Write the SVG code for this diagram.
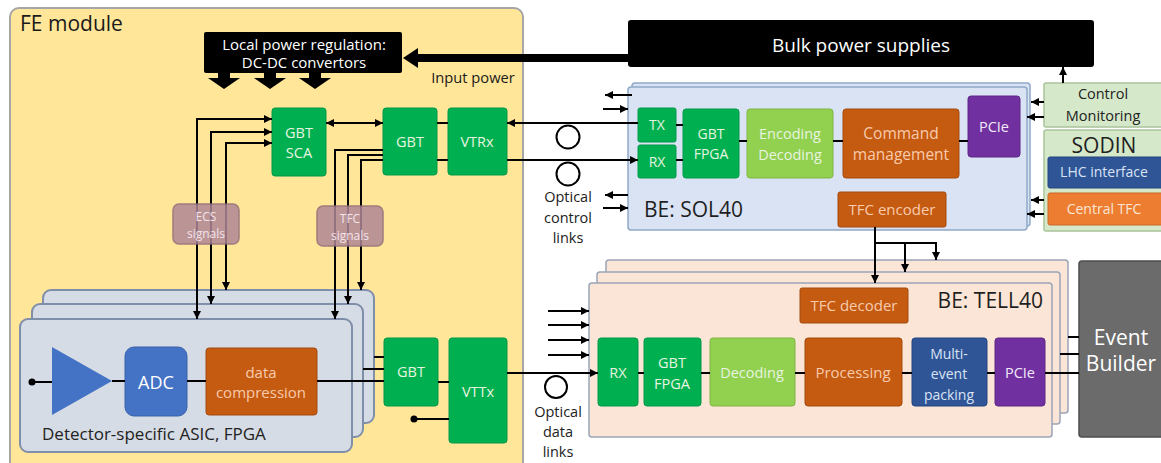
<svg xmlns="http://www.w3.org/2000/svg" width="1161" height="463" viewBox="0 0 1161 463">
<defs>
<style>
text{font-family:"Open Sans","Noto Sans","Liberation Sans",sans-serif;text-anchor:middle}
.ln{stroke:#000;stroke-width:2;fill:none}
.ar{stroke:#000;stroke-width:2;fill:none;marker-end:url(#ah)}
.ar2{stroke:#000;stroke-width:2;fill:none;marker-end:url(#ah);marker-start:url(#ah)}
.gr{fill:#00B050;stroke:#00994A;stroke-width:1}
.lg{fill:#92D050;stroke:#7FB543;stroke-width:1}
.or{fill:#C55A11;stroke:#A44A0E;stroke-width:1}
.pu{fill:#7030A0;stroke:#5E2887;stroke-width:1}
.bl{fill:#2F5597;stroke:#254580;stroke-width:1}
.tg{fill:#E8F4E0;font-size:14.5px}
.to{fill:#F8CBAD;font-size:15px}
.tw{fill:#F2EAF8;font-size:14.5px}
.tb{fill:#DAE3F3;font-size:14px}
.tk{fill:#222;font-size:14.5px}
.asic{fill:#D6DCE5;stroke:#7F8FA9;stroke-width:2}
.sol{fill:#DAE3F3;stroke:#8EA9C8;stroke-width:1.5}
.tell{fill:#FBE5D6;stroke:#9AA5B8;stroke-width:1.5}
.lgb{fill:#D5E8C9;stroke:#A9C49A;stroke-width:1.5}
.sig{fill:#B08796;stroke:#8E6B79;stroke-width:1.5;opacity:0.85}
.ts{fill:#F3E3EC;font-size:12px}
</style>
<marker id="ah" viewBox="0 0 10 10" refX="10" refY="5" markerWidth="8" markerHeight="8" markerUnits="userSpaceOnUse" orient="auto-start-reverse"><path d="M0,0 L10,5 L0,10 z" fill="#000"/></marker>
</defs>

<g id="fe-module">
<rect x="10" y="8" width="513" height="475" rx="9" fill="#FFE699" stroke="#A6A6A6" stroke-width="2"/>
<text x="20" y="31" style="text-anchor:start;font-size:21px;fill:#1a1a1a">FE module</text>
</g>

<g id="local-power">
<rect x="204" y="32" width="198" height="41" rx="2" fill="#000"/>
<text x="304" y="50" style="fill:#fff;font-size:15px">Local power regulation:</text>
<text x="304" y="68" style="fill:#fff;font-size:15px">DC-DC convertors</text>
<polygon points="218,72 230,72 230,78 240,78 224,89 208,78 218,78" fill="#000"/>
<polygon points="264,72 276,72 276,78 286,78 270,89 254,78 264,78" fill="#000"/>
<polygon points="309,72 321,72 321,78 331,78 315,89 299,78 309,78" fill="#000"/>
</g>

<g id="bulk-power">
<rect x="628" y="20" width="466" height="47" rx="3" fill="#000"/>
<text x="861" y="52" style="fill:#fff;font-size:19px">Bulk power supplies</text>
</g>

<g id="input-power">
<line x1="416" y1="58" x2="630" y2="58" stroke="#000" stroke-width="8"/>
<polygon points="403,58 418,48 418,68" fill="#000"/>
<text x="473" y="83" style="font-size:14.7px;fill:#1a1a1a">Input power</text>
</g>

<g id="gbt-sca">
<rect class="gr" x="272" y="108" width="54" height="68" rx="3"/>
<text class="tg" x="299" y="138">GBT</text>
<text class="tg" x="299" y="158">SCA</text>
</g>
<g id="gbt-up">
<rect class="gr" x="383" y="108" width="54" height="67" rx="3"/>
<text class="tg" x="410" y="147">GBT</text>
</g>
<g id="vtrx">
<rect class="gr" x="448" y="108" width="59" height="67" rx="3"/>
<text class="tg" x="477" y="147">VTRx</text>
</g>

<g id="asic">
<rect class="asic" x="43" y="290" width="331" height="133" rx="8"/>
<rect class="asic" x="32" y="304" width="331" height="133" rx="8"/>
<rect class="asic" x="20" y="319" width="332" height="133" rx="8"/>
<polygon points="52,347 112,381 52,415" fill="#4472C4"/>
<circle cx="32" cy="382" r="3.5" fill="#000"/>
<text x="42" y="440" style="text-anchor:start;font-size:17px;fill:#222">Detector-specific ASIC, FPGA</text>
</g>
<g id="adc">
<rect x="125" y="347" width="62" height="69" rx="9" fill="#4472C4" stroke="#3A62AA"/>
<text x="156" y="389" style="fill:#fff;font-size:18px">ADC</text>
</g>
<g id="data-compression">
<rect class="or" x="206" y="348" width="111" height="67" rx="3"/>
<text class="to" x="261" y="378">data</text>
<text class="to" x="261" y="398">compression</text>
</g>

<g id="gbt-low">
<rect class="gr" x="384" y="338" width="54" height="68" rx="3"/>
<text class="tg" x="411" y="377">GBT</text>
</g>
<g id="vttx">
<rect class="gr" x="449" y="338" width="58" height="105" rx="3"/>
<text class="tg" x="478" y="397">VTTx</text>
</g>

<g id="optical-control">
<circle cx="568" cy="137" r="11.5" fill="none" stroke="#000" stroke-width="2"/>
<circle cx="568" cy="174" r="11.5" fill="none" stroke="#000" stroke-width="2"/>
<text class="tk" x="568" y="202">Optical</text>
<text class="tk" x="568" y="223">control</text>
<text class="tk" x="568" y="243">links</text>
</g>
<g id="optical-data">
<circle cx="556" cy="387" r="11" fill="none" stroke="#000" stroke-width="2"/>
<text class="tk" x="558" y="417">Optical</text>
<text class="tk" x="558" y="437">data</text>
<text class="tk" x="558" y="457">links</text>
</g>

<g id="sol40">
<rect class="sol" x="632" y="83" width="398" height="143" rx="3"/>
<rect class="sol" x="628" y="87" width="399" height="143" rx="3"/>
<text x="644" y="217" style="text-anchor:start;font-size:21px;fill:#1f1f1f">BE: SOL40</text>
</g>
<g id="sol-tx">
<rect class="gr" x="638" y="108" width="38" height="34" rx="2"/>
<text class="tg" x="657" y="130" style="font-size:14px">TX</text>
</g>
<g id="sol-rx">
<rect class="gr" x="638" y="145" width="38" height="33" rx="2"/>
<text class="tg" x="657" y="167" style="font-size:14px">RX</text>
</g>
<g id="sol-gbt-fpga">
<rect class="gr" x="683" y="109" width="56" height="69" rx="3"/>
<text class="tg" x="711" y="139" style="font-size:14px">GBT</text>
<text class="tg" x="711" y="159" style="font-size:14px">FPGA</text>
</g>
<g id="sol-encdec">
<rect class="lg" x="747" y="109" width="86" height="69" rx="3"/>
<text class="tg" x="790" y="139">Encoding</text>
<text class="tg" x="790" y="160">Decoding</text>
</g>
<g id="sol-command">
<rect class="or" x="843" y="109" width="116" height="69" rx="3"/>
<text class="to" x="901" y="139" style="font-size:15.5px">Command</text>
<text class="to" x="901" y="160" style="font-size:15.5px">management</text>
</g>
<g id="sol-pcie">
<rect class="pu" x="968" y="96" width="52" height="61" rx="3"/>
<text class="tw" x="994" y="132">PCIe</text>
</g>
<g id="tfc-encoder">
<rect class="or" x="838" y="192" width="108" height="35" rx="2"/>
<text class="to" x="892" y="215">TFC encoder</text>
</g>

<g id="control-monitoring">
<rect class="lgb" x="1044" y="83" width="125" height="44" rx="2"/>
<text class="tk" x="1103" y="99">Control</text>
<text class="tk" x="1103" y="121">Monitoring</text>
</g>
<g id="sodin">
<rect class="lgb" x="1044" y="130" width="125" height="101" rx="2"/>
<text x="1104" y="153" style="font-size:21px;fill:#1f1f1f">SODIN</text>
<rect class="bl" x="1048" y="157" width="118" height="31" rx="2"/>
<text class="tb" x="1104" y="177">LHC interface</text>
<rect x="1048" y="193" width="118" height="32" rx="2" fill="#ED7D31" stroke="#C9692A"/>
<text x="1104" y="214" style="font-size:14px;fill:#FBE5D6">Central TFC</text>
</g>

<g id="tell40">
<rect class="tell" x="606" y="260" width="462" height="153" rx="3"/>
<rect class="tell" x="597" y="272" width="463" height="152" rx="3"/>
<rect class="tell" x="589" y="283" width="463" height="154" rx="3"/>
<text x="1043" y="308" style="text-anchor:end;font-size:21px;fill:#1f1f1f">BE: TELL40</text>
</g>
<g id="tfc-decoder">
<rect class="or" x="800" y="288" width="108" height="35" rx="2"/>
<text class="to" x="854" y="311">TFC decoder</text>
</g>
<g id="tell-rx">
<rect class="gr" x="598" y="338" width="40" height="68" rx="3"/>
<text class="tg" x="618" y="378">RX</text>
</g>
<g id="tell-gbt-fpga">
<rect class="gr" x="644" y="338" width="57" height="68" rx="3"/>
<text class="tg" x="672" y="368">GBT</text>
<text class="tg" x="672" y="389">FPGA</text>
</g>
<g id="tell-decoding">
<rect class="lg" x="710" y="338" width="85" height="68" rx="3"/>
<text class="tg" x="752" y="378">Decoding</text>
</g>
<g id="tell-processing">
<rect class="or" x="805" y="338" width="97" height="68" rx="3"/>
<text class="to" x="853" y="378">Processing</text>
</g>
<g id="tell-multi">
<rect class="bl" x="912" y="338" width="75" height="68" rx="3"/>
<text class="tb" x="949" y="359">Multi-</text>
<text class="tb" x="949" y="379">event</text>
<text class="tb" x="949" y="400">packing</text>
</g>
<g id="tell-pcie">
<rect class="pu" x="995" y="338" width="50" height="68" rx="3"/>
<text class="tw" x="1020" y="378">PCIe</text>
</g>

<g id="event-builder">
<rect x="1079" y="261" width="90" height="176" rx="3" fill="#6B6B6B" stroke="#4D4D4D" stroke-width="1.5"/>
<text x="1121" y="345" style="fill:#fff;font-size:21px">Event</text>
<text x="1121" y="371" style="fill:#fff;font-size:21px">Builder</text>
</g>

<g id="connectors">
<path class="ar2" d="M272,119 H197 V319"/>
<path class="ar2" d="M272,132 H211 V304"/>
<path class="ar2" d="M272,143 H226 V290"/>
<path class="ar" d="M383,150 H335 V319"/>
<path class="ar" d="M383,155 H348 V304"/>
<path class="ar" d="M383,160 H361 V290"/>
<path class="ar2" d="M326,123 H383"/>
<path class="ln" d="M437,123 H448 M437,160 H448"/>
<path class="ar" d="M638,123 H507"/>
<path class="ar" d="M507,160 H638"/>
<path class="ar" d="M632,95 H605"/>
<path class="ar" d="M603,109 H628"/>
<path class="ar" d="M628,195 H605"/>
<path class="ar" d="M603,208 H628"/>
<path class="ar" d="M1044,102 H1031"/>
<path class="ar" d="M1044,117 H1027"/>
<path class="ar" d="M1044,200 H1031"/>
<path class="ar" d="M1044,214 H1027"/>
<path class="ar" d="M1063,83 V67"/>
<path class="ln" d="M676,125 H683 M676,160 H683 M739,141 H747 M833,141 H843 M959,141 H968"/>
<path class="ar" d="M875,227 V283"/>
<path class="ar" d="M875,243 H936 V260"/>
<path class="ar" d="M905,243 V272"/>
<path class="ln" d="M32,382 H52 M112,381 H125 M187,381 H206 M317,381 H384"/>
<path class="ln" d="M374,357 H384 M363,369 H384 M438,382 H449 M414,419 H449"/>
<circle cx="414" cy="419" r="3.5" fill="#000"/>
<path class="ar" d="M507,373 H598"/>
<path class="ar" d="M548,311 H589"/>
<path class="ar" d="M548,325 H589"/>
<path class="ar" d="M548,340 H589"/>
<path class="ar" d="M548,355 H589"/>
<path class="ln" d="M638,373 H644 M701,373 H710 M795,373 H805 M902,373 H912 M987,373 H995 M1045,373 H1079 M1068,337 H1079 M1060,354 H1079"/>
</g>

<g id="ecs-signals">
<rect class="sig" x="173" y="204" width="66" height="40" rx="6"/>
<text class="ts" x="206" y="221">ECS</text>
<text class="ts" x="206" y="238">signals</text>
</g>
<g id="tfc-signals">
<rect class="sig" x="317" y="206" width="66" height="40" rx="6"/>
<text class="ts" x="350" y="223">TFC</text>
<text class="ts" x="350" y="240">signals</text>
</g>
</svg>
